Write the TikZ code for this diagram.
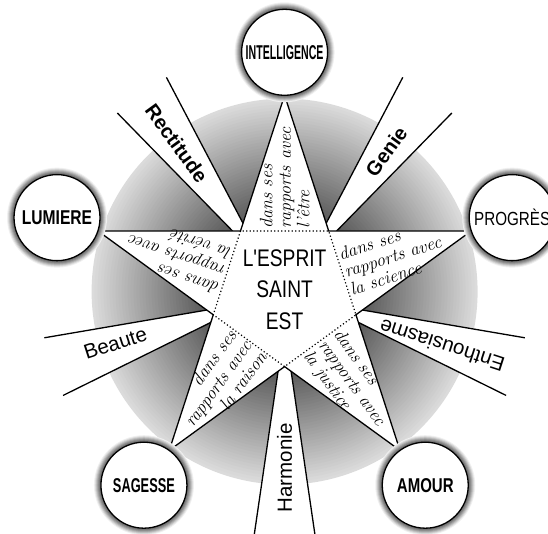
\documentclass[tikz,border=0pt]{standalone}
\usepackage{fontspec}
\usepackage{graphicx}
\usetikzlibrary{calc}

\newfontfamily\sansnarrow[FakeStretch=0.8]{Liberation Sans}
\newfontfamily\sanslabel{Liberation Sans}
\newcommand{\squeeze}[2]{\scalebox{#1}[1]{#2}}

\begin{document}
\begin{tikzpicture}[x=1pt, y=1pt,
  virtue/.style = {circle, draw, line width=1.3pt, fill=white, minimum size=86pt, inner sep=0pt,
                   font=\sanslabel\fontsize{20}{22}\selectfont\bfseries},
  ray/.style = {line width=1.3pt},
  quality/.style = {inner sep=1pt, font=\sanslabel\fontsize{20.5}{24}\selectfont},
  strongquality/.style = {inner sep=1pt, font=\sanslabel\fontsize{20}{24}\selectfont\bfseries},
  relation/.style = {inner sep=0pt, align=left, font=\itshape\fontsize{18}{18.5}\selectfont}
  ]

  \useasboundingbox (-284.6,-242.4) rectangle (263.4,291.6);

  % grey disc, light at the rim and dark towards the star
  \foreach \r in {193,190,...,70}{
    \pgfmathsetmacro\tone{min(68,14+(193-\r)*54/118)}
    \fill[black!\tone] (0,0) circle (\r);
  }

  % white rays between the arms
  \foreach \a in {54,126,198,270,342}{
    \coordinate (apex) at (\a:35);
    \coordinate (rayl) at ($(apex)+({\a+8.3}:210)$);
    \coordinate (rayr) at ($(apex)+({\a-8.3}:210)$);
    \fill[white] (apex) -- (rayl) -- (rayr) -- cycle;
    \draw[ray] (rayl) -- (apex) -- (rayr);
  }

  % star
  \foreach \a/\n in {90/t1,162/t2,234/t3,306/t4,18/t5}
    \coordinate (\n) at (\a:196.3);
  \foreach \a/\n in {126/v1,198/v2,270/v3,342/v4,54/v5}
    \coordinate (\n) at (\a:75);
  \filldraw[fill=white, line width=1.3pt]
    (t1) -- (v1) -- (t2) -- (v2) -- (t3) -- (v3) -- (t4) -- (v4) -- (t5) -- (v5) -- cycle;
  \draw[line width=1.2pt, dash pattern=on 1.2pt off 2.3pt]
    (v1) -- (v2) -- (v3) -- (v4) -- (v5) -- cycle;

  % halos and circles
  \foreach \a in {90,162,234,306,18}
    \foreach \r/\tone in {50/6,49/14,48/24,47/34,46/44,45/52,44/58}
      \fill[black!\tone] (\a:239.3) circle (\r);
  \node[virtue] (intelligence) at (90:239.3)  {\squeeze{0.53}{INTELLIGENCE}};
  \node[virtue] (lumiere)      at (162:239.3) {\squeeze{0.78}{LUMIERE}};
  \node[virtue] (sagesse)      at (234:239.3) {\squeeze{0.64}{SAGESSE}};
  \node[virtue] (amour)        at (306:239.3) {\squeeze{0.75}{AMOUR}};
  \node[virtue, font=\sanslabel\fontsize{19}{22}\selectfont] (progres) at (18:239.3) {\squeeze{0.8}{PROGRÈS}};

  % words in the rays
  \node[strongquality, rotate=-54] (rectitude)    at (126:183.5) {Rectitude};
  \node[strongquality, rotate=54]  (genie)        at (54:173)    {Genie};
  \node[quality, rotate=18]        (beaute)       at (197:177)   {Beaute};
  \node[quality, rotate=90]        (harmonie)     at (270:176.4) {Harmonie};
  \node[quality, rotate=162]       (enthousiasme) at (341:166.5) {Enthousiasme};

  % words in the arms
  \node[relation, anchor=west, rotate=90]  (etre)    at (90:63)  {dans ses\\rapports avec\\l'être};
  \node[relation, anchor=west, rotate=18]  (science) at (18:63)  {dans ses\\rapports avec\\la science};
  \node[relation, anchor=west, rotate=162] (verite)  at (162:63) {dans ses\\rapports avec\\la vérité};
  \node[relation, anchor=east, rotate=54, align=right] (raison) at (234:63) {dans ses\\rapports avec\\la raison};
  \node[relation, anchor=west, rotate=-54] (justice) at (306:63) {dans ses\\rapports avec\\la justice};

  % centre
  \node[align=center, font=\sansnarrow\fontsize{24}{31.5}\selectfont] (esprit) at (0,2) {L'ESPRIT\\SAINT\\EST};

\end{tikzpicture}
\end{document}
